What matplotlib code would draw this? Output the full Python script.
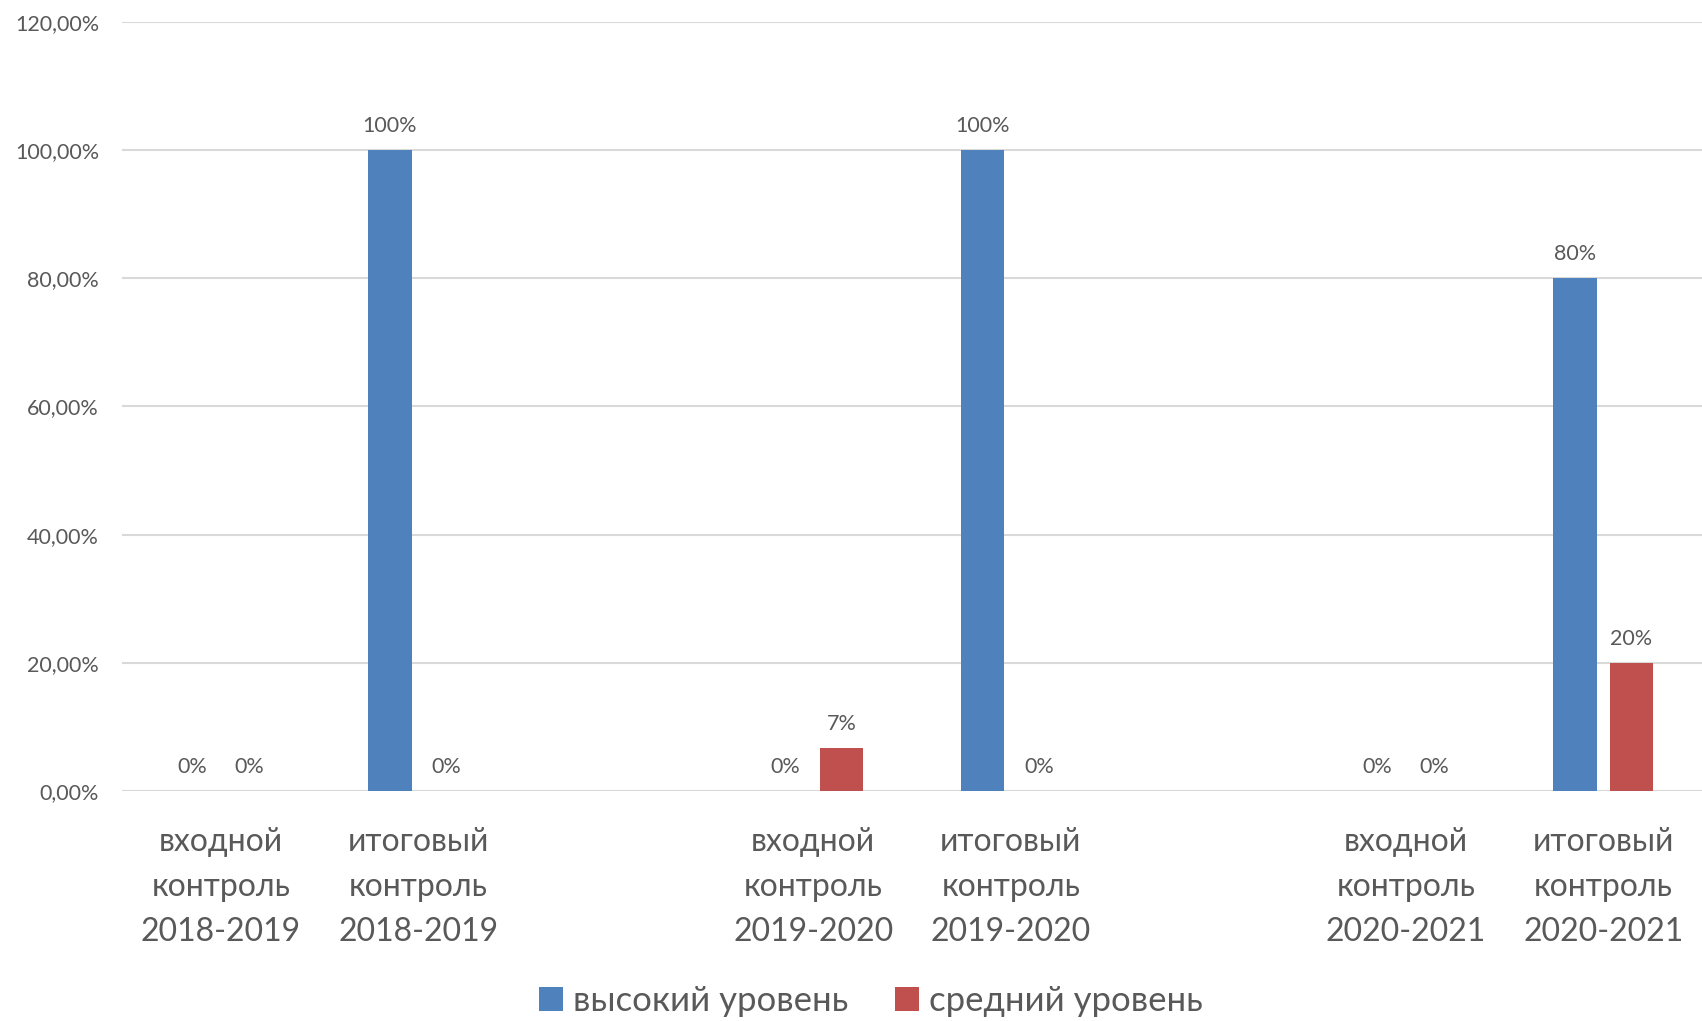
import numpy as np
import matplotlib
matplotlib.use("Agg")
import matplotlib.pyplot as plt
from matplotlib.patches import Patch

plt.rcParams['font.family'] = ['Lato', 'DejaVu Sans']

categories = ["входной\nконтроль\n2018-2019", "итоговый\nконтроль\n2018-2019", "",
              "входной\nконтроль\n2019-2020", "итоговый\nконтроль\n2019-2020", "",
              "входной\nконтроль\n2020-2021", "итоговый\nконтроль\n2020-2021"]
high = [0.0, 1.0, np.nan, 0.0, 1.0, np.nan, 0.0, 0.8]
mid = [0.0, 0.0, np.nan, 0.067, 0.0, np.nan, 0.0, 0.2]
series_names = ["высокий уровень", "средний уровень"]
yticks = [0.0, 0.2, 0.4, 0.6, 0.8, 1.0, 1.2]
ytick_labels = ["0,00%", "20,00%", "40,00%", "60,00%", "80,00%", "100,00%", "120,00%"]

blue = "#4F81BD"
red = "#C0504D"
txt = "#595959"
grid = "#D9D9D9"

fig = plt.figure(figsize=(17.02, 10.21), dpi=100)
ax = fig.add_axes([122/1702, 1-791/1021, 1-122/1702, (791-22)/1021])

x = np.arange(len(categories))
w = 0.222
off = 0.143
ax.bar(x - off, high, width=w, color=blue, zorder=3)
ax.bar(x + off, mid, width=w, color=red, zorder=3)

for xs, vals in ((x - off, high), (x + off, mid)):
    for xi, v in zip(xs, vals):
        if np.isnan(v):
            continue
        ax.annotate(f"{v*100:.0f}%", (xi, v), xytext=(0, 13), textcoords="offset points",
                    ha="center", va="baseline", fontsize=15.5, color=txt)

ax.set_xlim(-0.5, len(categories) - 0.5)
ax.set_ylim(0, 1.2)
ax.set_yticks(yticks)
ax.set_yticklabels(ytick_labels, fontsize=15.5, color=txt)
ax.set_xticks(x)
ax.set_xticklabels(categories, fontsize=23, color=txt, linespacing=1.62)
ax.tick_params(axis='both', length=0)
ax.tick_params(axis='y', pad=16.5)
ax.tick_params(axis='x', pad=26)
ax.yaxis.grid(True, color=grid, linewidth=1.5, zorder=0)
for s in ax.spines.values():
    s.set_visible(False)
ax.axhline(0, color=grid, linewidth=1.8, zorder=2)

handles = [Patch(facecolor=blue, label=series_names[0]), Patch(facecolor=red, label=series_names[1])]
fig.legend(handles=handles, loc="center", bbox_to_anchor=(871/1702, 1-1001/1021), ncol=2,
           frameon=False, fontsize=25, labelcolor=txt, handlelength=0.68, handleheight=0.68,
           handletextpad=0.3, columnspacing=1.35)

fig.savefig("out.png", dpi=100, facecolor="white")
